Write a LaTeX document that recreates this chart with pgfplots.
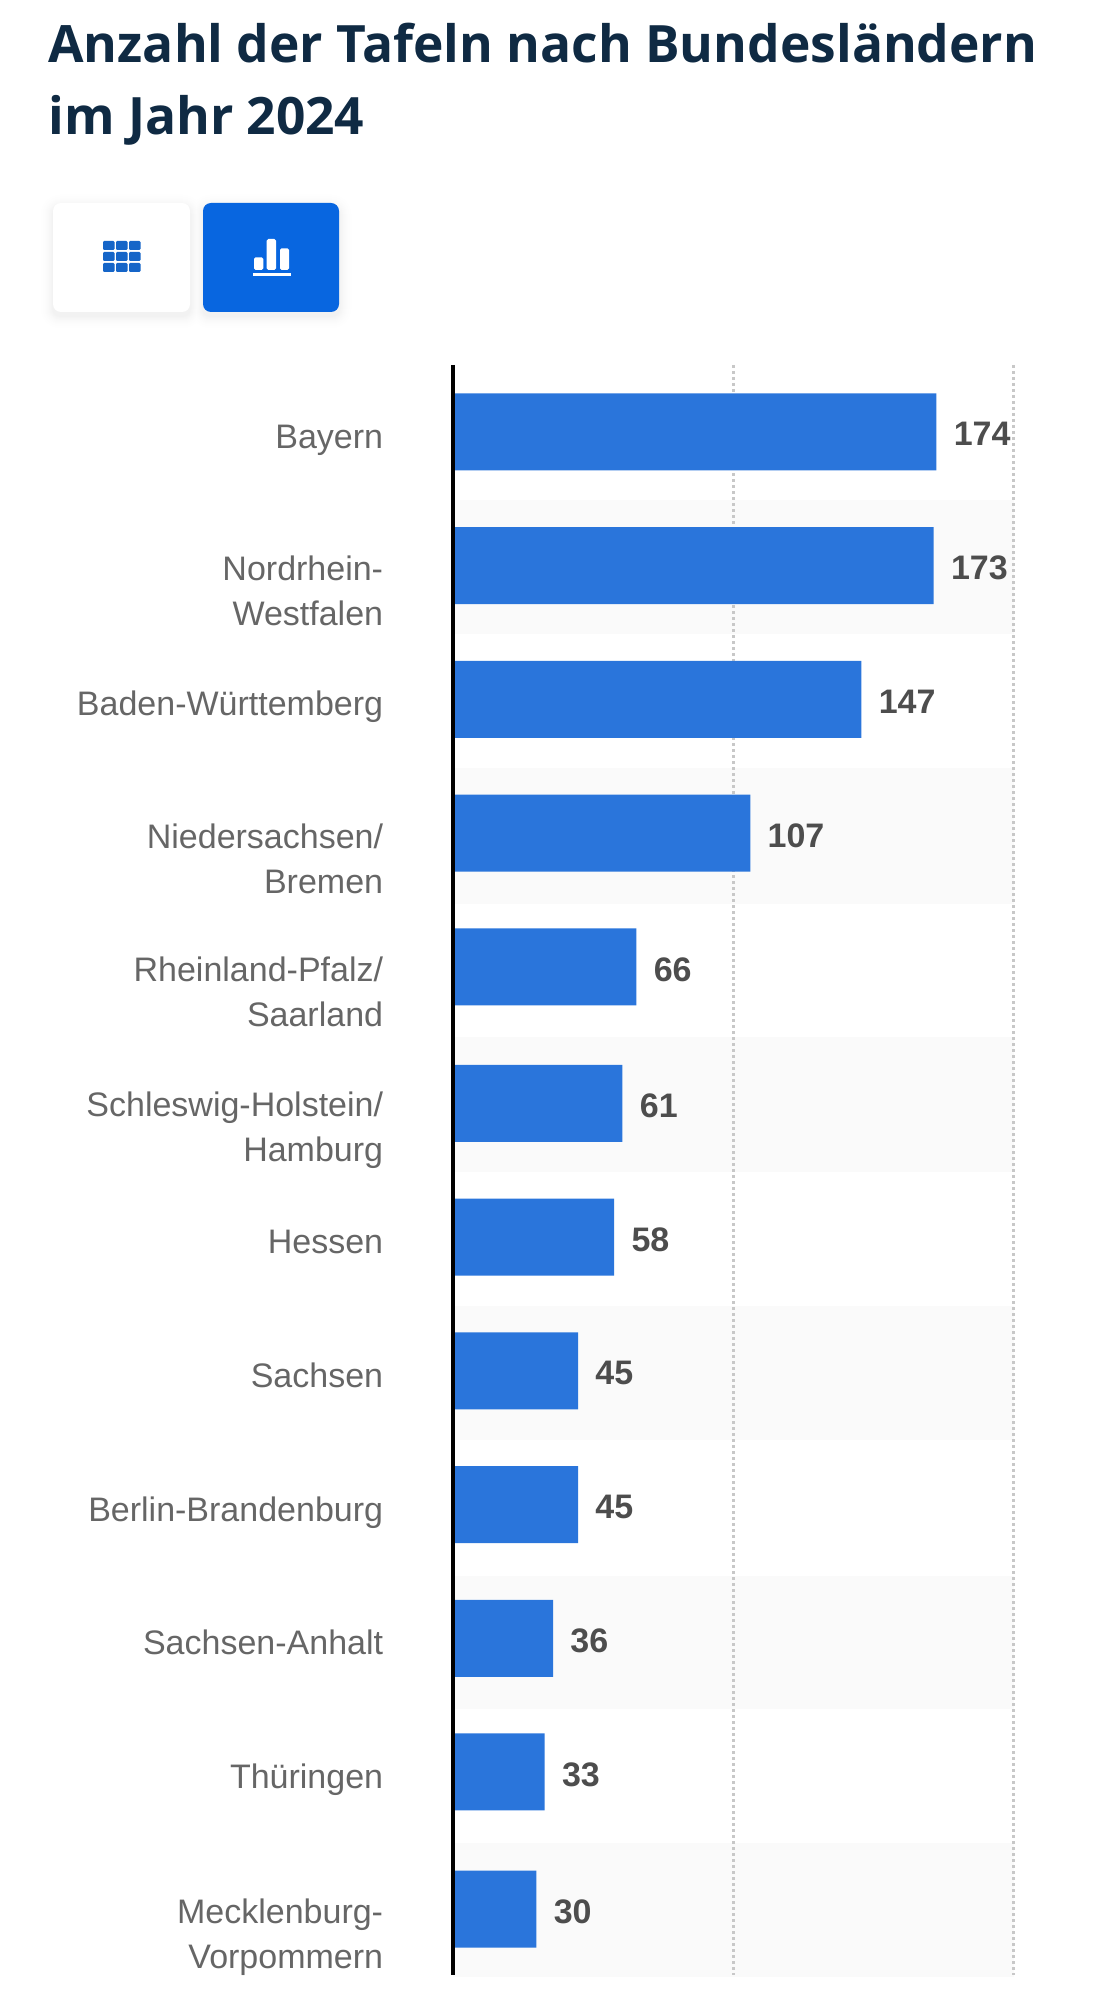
\documentclass[border=0pt]{standalone}
\usepackage{fontspec}
\usepackage{pgfplots}
\pgfplotsset{compat=1.18}
\usepackage{pgfplotstable}
\setmainfont{Liberation Sans}
\newfontfamily\titlefont{Open Sans}
\definecolor{titlecol}{HTML}{0F2A43}
\definecolor{barcol}{HTML}{2A75DB}
\definecolor{btncol}{HTML}{0866E0}
\definecolor{iconcol}{HTML}{1565C8}
\definecolor{bandcol}{HTML}{FAFAFA}
\definecolor{labelcol}{HTML}{666666}
\definecolor{valuecol}{HTML}{4D4D4D}
\definecolor{gridcol}{HTML}{C8C8C8}

% y column = bar centre on the picture's pixel rows, x = value
\pgfplotstableread{
pos value
431.8 174
565.5 173
699.3 147
833.0 107
966.8 66
1103.3 61
1237.2 58
1370.8 45
1504.5 45
1638.3 36
1771.8 33
1909.0 30
}\tafeln

\begin{document}
\begin{tikzpicture}
\begin{scope}[x=0.5pt,y=-0.5pt]
  \path[use as bounding box] (0,0) rectangle (1118,2000);
  % title
  \node[anchor=base west,inner sep=0pt,text=titlecol,font=\titlefont\bfseries\fontsize{25.75}{30}\selectfont] at (48,63) {Anzahl der Tafeln nach Bundesländern};
  \node[anchor=base west,inner sep=0pt,text=titlecol,font=\titlefont\bfseries\fontsize{25.75}{30}\selectfont] at (48,135) {im Jahr 2024};
  % buttons: soft shadows, then cards
  \foreach \s in {14,13,...,1}{
    \pgfmathsetmacro{\v}{1-0.05*((15-\s)/14)^2}
    \definecolor{sh}{gray}{\v}
    \fill[sh,rounded corners=4pt+\s*0.5pt] (53-\s,203+4-\s) rectangle (190+\s,312+4+\s);
    \fill[sh,rounded corners=4pt+\s*0.5pt] (203-\s,203+4-\s) rectangle (339+\s,312+4+\s);
  }
  \fill[white,rounded corners=4pt] (53,203) rectangle (190,312);
  \fill[btncol,rounded corners=4pt] (203,203) rectangle (339,312);
  % table icon
  \foreach \cx in {103,116,129}{
    \foreach \cy in {241,252,263}{
      \fill[iconcol,rounded corners=0.6pt] (\cx,\cy) rectangle (\cx+11.5,\cy+9);
    }
  }
  % chart icon
  \fill[white,rounded corners=0.8pt] (254,257.3) rectangle (263.3,270);
  \fill[white,rounded corners=0.8pt] (266.7,239) rectangle (276,270);
  \fill[white,rounded corners=0.8pt] (280,248.3) rectangle (289,270);
  \fill[white] (253,273.3) rectangle (290.7,276);
\end{scope}

\begin{axis}[
    at={(226.5pt,-987.5pt)},
    anchor=south west,
    scale only axis,
    width=280.6pt,
    height=805pt,
    set layers,
    clip=false,
    xmin=0, xmax=202,
    ymin=365, ymax=1975,
    y dir=reverse,
    axis line style={draw=none},
    major tick length=0pt,
    xtick={101,201.7},
    xticklabels={},
    xmajorgrids,
    major grid style={gridcol,line width=1.3pt,dash pattern=on 1.5pt off 1.5pt},
    ytick={436.7,591.5,704,859,992.7,1127.5,1242,1376.3,1509.5,1643,1777,1934},
    yticklabels={
      \strut Bayern,
      \strut Nordrhein-\\\strut Westfalen,
      \strut Baden-Württemberg,
      \strut Niedersachsen/\\\strut Bremen,
      \strut Rheinland-Pfalz/\\\strut Saarland,
      \strut Schleswig-Holstein/\\\strut Hamburg,
      \strut Hessen,
      \strut Sachsen,
      \strut Berlin-Brandenburg,
      \strut Sachsen-Anhalt,
      \strut Thüringen,
      \strut Mecklenburg-\\\strut Vorpommern},
    yticklabel style={
      anchor=east,align=right,inner sep=0pt,xshift=-34.75pt,yshift=-1.25pt,text=labelcol,
      font=\fontsize{17}{22.5}\selectfont},
    xbar,
    bar width=38.5pt,
    bar shift=0pt,
    nodes near coords,
    /pgf/number format/assume math mode=true,
    every node near coord/.append style={
      anchor=west,inner sep=0pt,xshift=8.5pt,yshift=-1.25pt,text=valuecol,
      font=\bfseries\fontsize{17}{20}\selectfont},
]
  % alternating row bands
  \begin{pgfonlayer}{axis background}
    \fill[bandcol] (axis cs:0,500) rectangle (axis cs:202,634);
    \fill[bandcol] (axis cs:0,768) rectangle (axis cs:202,904);
    \fill[bandcol] (axis cs:0,1037) rectangle (axis cs:202,1172);
    \fill[bandcol] (axis cs:0,1306) rectangle (axis cs:202,1440);
    \fill[bandcol] (axis cs:0,1576) rectangle (axis cs:202,1709);
    \fill[bandcol] (axis cs:0,1843) rectangle (axis cs:202,1977);
  \end{pgfonlayer}

  \addplot[fill=barcol,draw=none] table[x=value,y=pos] {\tafeln};

  % vertical baseline sits over the bars
  \draw[black,line width=1.6pt] (axis cs:0,365) -- (axis cs:0,1975);
\end{axis}
\end{tikzpicture}
\end{document}
